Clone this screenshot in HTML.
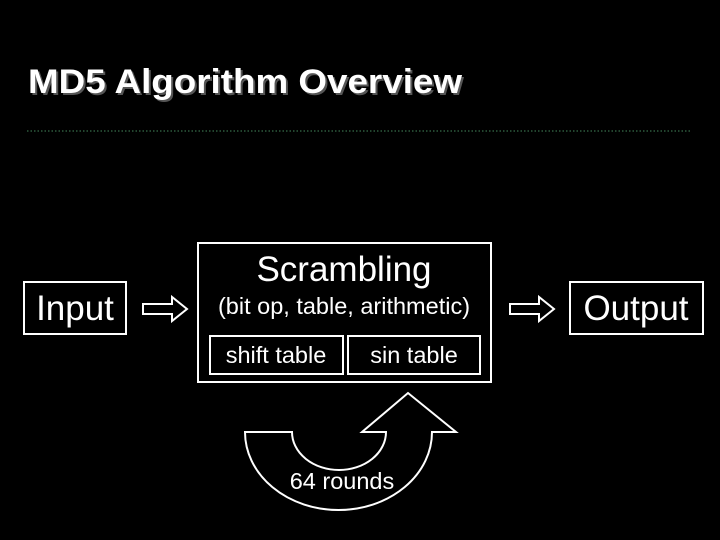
<!DOCTYPE html>
<html><head><style>
body{margin:0;background:#000;width:720px;height:540px;overflow:hidden}
</style></head><body>
<svg width="720" height="540" xmlns="http://www.w3.org/2000/svg" style="position:absolute;left:0;top:0;font-family:'Liberation Sans',Arial,sans-serif">
<rect width="720" height="540" fill="#000"/>
<text x="28" y="93" font-size="34" font-weight="bold" fill="#555" transform="translate(2,2)" textLength="434" lengthAdjust="spacingAndGlyphs">MD5 Algorithm Overview</text>
<text x="28" y="93" font-size="34" font-weight="bold" fill="#fff" textLength="434" lengthAdjust="spacingAndGlyphs">MD5 Algorithm Overview</text>
<line x1="27" y1="131" x2="690" y2="131" stroke="#2e5a3e" stroke-width="1.5" stroke-dasharray="1.5,2"/>
<g fill="none" stroke="#fff" stroke-width="2">
<rect x="24" y="282" width="102" height="52"/>
<rect x="570" y="282" width="133" height="52"/>
<rect x="198" y="243" width="293" height="139"/>
<rect x="210" y="336" width="133" height="38"/>
<rect x="348" y="336" width="132" height="38"/>
<path d="M143 304 H172 V297 L187 309 L172 321 V314 H143 Z"/>
<path d="M510 304 H539 V297 L554 309 L539 321 V314 H510 Z"/>
<path d="M245 432 H292 A47 38 0 0 0 386 432 H362 L408 393 L456 432 H432 A93.5 78 0 0 1 245 432 Z"/>
</g>
<g fill="#fff" text-anchor="middle">
<text x="75" y="320" font-size="35">Input</text>
<text x="636" y="320" font-size="35">Output</text>
<text x="344" y="281" font-size="35">Scrambling</text>
<text x="344" y="314" font-size="23.5">(bit op, table, arithmetic)</text>
<text x="276" y="363" font-size="23.5">shift table</text>
<text x="414" y="363" font-size="23.5">sin table</text>
<text x="342" y="489" font-size="23.5">64 rounds</text>
</g>
</svg>
</body></html>
